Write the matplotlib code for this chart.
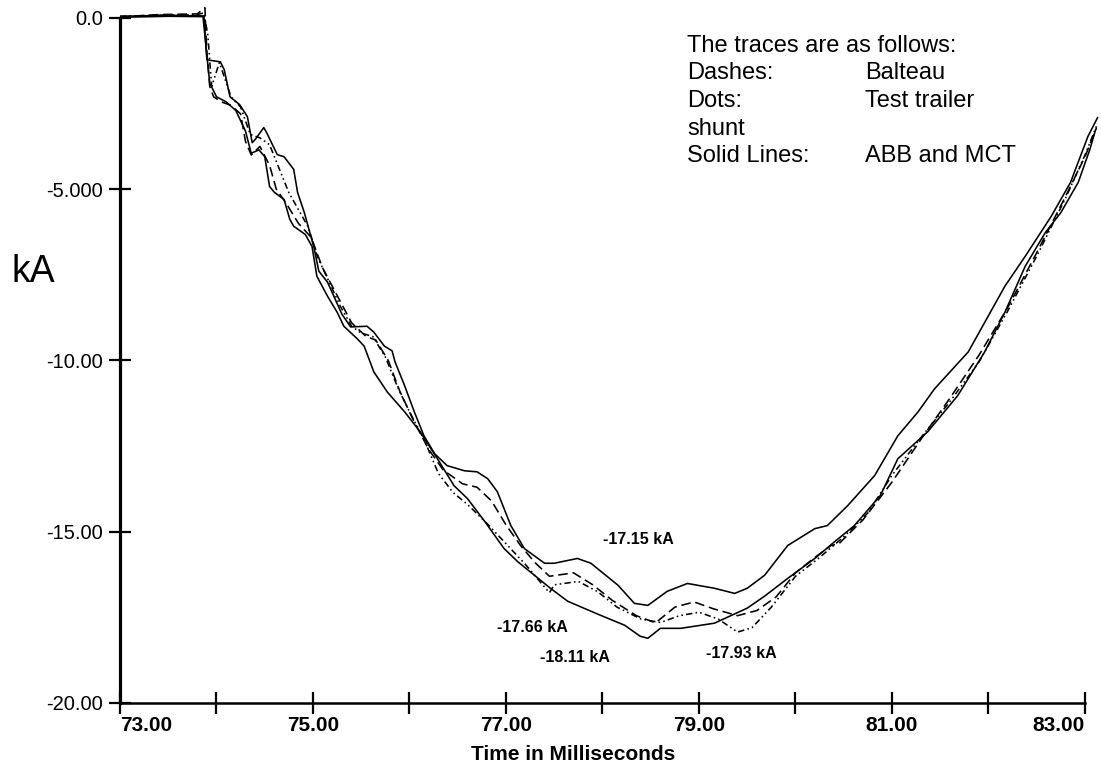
import matplotlib
matplotlib.use("Agg")
import matplotlib.pyplot as plt
import numpy as np

# ---------------- data ----------------
# Solid trace 1 (upper at the minimum, min -17.15 kA)
abb_t = [73.0, 73.5, 73.87, 73.90, 74.04, 74.08, 74.14, 74.24, 74.32, 74.37, 74.40, 74.49,
         74.52, 74.63, 74.70, 74.80, 74.84, 74.91, 75.01, 75.06, 75.15, 75.30, 75.39, 75.56,
         75.63, 75.74, 75.82, 75.85, 75.95, 76.05, 76.15, 76.26, 76.39, 76.57, 76.70, 76.81,
         76.91, 77.05, 77.19, 77.40, 77.50, 77.74, 77.88, 78.16, 78.33, 78.47, 78.67, 78.88,
         79.16, 79.37, 79.50, 79.68, 79.92, 80.20, 80.33, 80.54, 80.82, 81.06, 81.27, 81.44,
         81.79, 82.17, 82.38, 82.65, 82.85, 83.03, 83.13]
abb_kA = [0.05, 0.08, 0.06, -1.22, -1.28, -1.51, -2.30, -2.53, -2.88, -3.64, -3.55, -3.20,
          -3.35, -3.99, -4.05, -4.42, -5.09, -5.68, -6.70, -7.39, -7.71, -8.65, -9.02, -9.00,
          -9.17, -9.58, -9.72, -10.04, -10.74, -11.50, -12.20, -12.72, -13.07, -13.22, -13.25, -13.45,
          -13.83, -14.82, -15.49, -15.92, -15.92, -15.78, -15.92, -16.56, -17.09, -17.15, -16.74, -16.51,
          -16.65, -16.80, -16.65, -16.27, -15.40, -14.91, -14.82, -14.24, -13.36, -12.20, -11.50, -10.83,
          -9.75, -7.83, -6.96, -5.79, -4.80, -3.46, -2.91]

# Solid trace 2 (lowest at the minimum, min -18.11 kA)
mct_t = [73.0, 73.5, 73.86, 73.89, 73.93, 74.0, 74.1, 74.2, 74.3, 74.36, 74.44, 74.50,
         74.55, 74.60, 74.70, 74.76, 74.80, 74.92, 74.99, 75.04, 75.15, 75.25, 75.32, 75.46,
         75.53, 75.63, 75.77, 75.95, 76.11, 76.29, 76.46, 76.60, 76.78, 76.98, 77.12, 77.46,
         77.64, 77.98, 78.23, 78.39, 78.47, 78.60, 78.81, 79.16, 79.50, 79.68, 79.92, 80.20,
         80.41, 80.61, 80.88, 81.06, 81.37, 81.68, 81.96, 82.17, 82.38, 82.59, 82.75, 82.93,
         83.05, 83.11]
mct_kA = [0.02, 0.05, 0.04, -0.8, -1.9, -2.3, -2.45, -2.7, -3.3, -3.95, -3.85, -4.05,
          -4.92, -5.09, -5.30, -5.88, -6.08, -6.32, -6.67, -7.54, -8.12, -8.59, -9.00, -9.37,
          -9.58, -10.33, -10.92, -11.50, -12.08, -12.87, -13.65, -14.03, -14.70, -15.49, -15.87, -16.65,
          -17.03, -17.44, -17.73, -18.05, -18.11, -17.82, -17.82, -17.67, -17.23, -16.88, -16.36, -15.78,
          -15.28, -14.82, -13.94, -12.87, -12.08, -11.03, -9.75, -8.59, -7.25, -6.26, -5.68, -4.80,
          -3.84, -3.26]

# Dashes: Balteau (min -17.66 kA)
balteau_t = [73.0, 73.4, 73.8, 73.88, 73.90, 73.93, 73.97, 74.05, 74.15, 74.25, 74.30, 74.36,
             74.45, 74.55, 74.62, 74.72, 74.85, 74.98, 75.10, 75.25, 75.40, 75.55, 75.65, 75.78,
             75.90, 76.05, 76.20, 76.35, 76.55, 76.70, 76.85, 77.00, 77.15, 77.30, 77.45, 77.70,
             77.90, 78.10, 78.35, 78.55, 78.75, 78.95, 79.15, 79.40, 79.60, 79.80, 80.00, 80.20,
             80.37, 80.45, 80.70, 81.00, 81.30, 81.60, 81.90, 82.20, 82.50, 82.80, 83.00, 83.12]
balteau_kA = [0.03, 0.10, 0.12, 0.30, -1.0, -2.0, -2.3, -2.45, -2.55, -2.8, -3.6, -4.0,
              -3.75, -4.3, -5.0, -5.4, -6.0, -6.4, -7.3, -8.1, -8.9, -9.3, -9.4, -10.0,
              -10.9, -11.8, -12.6, -13.2, -13.6, -13.7, -14.1, -14.8, -15.4, -15.9, -16.3, -16.2,
              -16.55, -17.0, -17.45, -17.66, -17.2, -17.05, -17.25, -17.45, -17.3, -16.9, -16.2, -15.75,
              -15.4, -15.35, -14.65, -13.55, -12.3, -11.1, -9.85, -8.45, -6.85, -5.2, -4.05, -3.2]

# Dots: Test trailer shunt (min -17.93 kA)
shunt_t = [73.0, 73.4, 73.8, 73.87, 73.91, 73.95, 74.03, 74.15, 74.25, 74.35, 74.45, 74.55,
           74.65, 74.75, 74.85, 74.95, 75.05, 75.15, 75.28, 75.40, 75.50, 75.62, 75.75, 75.88,
           76.00, 76.15, 76.30, 76.45, 76.60, 76.80, 77.00, 77.20, 77.35, 77.45, 77.50, 77.75,
           77.95, 78.15, 78.40, 78.60, 78.80, 79.00, 79.20, 79.40, 79.55, 79.75, 80.00, 80.25,
           80.50, 80.75, 81.00, 81.30, 81.60, 81.90, 82.20, 82.50, 82.80, 83.00, 83.12]
shunt_kA = [0.05, 0.08, 0.10, 0.15, -0.5, -2.0, -1.3, -2.3, -2.6, -3.4, -3.5, -3.7,
            -4.4, -5.1, -5.6, -6.1, -7.0, -7.6, -8.4, -9.0, -9.2, -9.3, -9.9, -10.8,
            -11.5, -12.3, -13.3, -13.85, -14.2, -14.75, -15.35, -15.95, -16.45, -16.78, -16.55, -16.45,
            -16.75, -17.2, -17.55, -17.65, -17.45, -17.35, -17.55, -17.93, -17.8, -17.2, -16.3, -15.75,
            -15.15, -14.45, -13.35, -12.25, -11.2, -10.05, -8.55, -6.95, -5.25, -4.0, -3.15]

x_ticks = [73, 74, 75, 76, 77, 78, 79, 80, 81, 82, 83]
x_tick_labels = ["73.00", "", "75.00", "", "77.00", "", "79.00", "", "81.00", "", "83.00"]
y_ticks = [0, -5, -10, -15, -20]
y_tick_labels = ["0.0", "-5.000", "-10.00", "-15.00", "-20.00"]

legend_left = ["The traces are as follows:", "Dashes:", "Dots:", "shunt", "Solid Lines:"]
legend_right = ["", "Balteau", "Test trailer", "", "ABB and MCT"]

peak_labels = ["-17.15 kA", "-17.66 kA", "-18.11 kA", "-17.93 kA"]

# ---------------- figure ----------------
W, H = 1101, 767
plt.rcParams['font.family'] = ['Liberation Sans', 'DejaVu Sans']
fig = plt.figure(figsize=(W / 100, H / 100), dpi=100)

x0_px, y_top_px, y_bot_px = 120, 2, 703
ax = fig.add_axes([x0_px / W, 1 - y_bot_px / H, (1100 - x0_px) / W, (y_bot_px - y_top_px) / H])
ax.set_xlim(73, 73 + (1100 - x0_px) / 96.5)
ax.set_ylim(-20, (18 - y_top_px) / 34.25)

lw = 1.15
ax.plot(abb_t, abb_kA, color='black', lw=lw, ls='-')
ax.plot(mct_t, mct_kA, color='black', lw=lw, ls='-')
ax.plot(balteau_t, balteau_kA, color='black', lw=lw, ls=(0, (6, 3)))
ax.plot(shunt_t, shunt_kA, color='black', lw=lw, ls=(0, (4, 2, 1, 2, 1, 2)))

for s in ['top', 'right']:
    ax.spines[s].set_visible(False)
ax.spines['left'].set_linewidth(2.3)
ax.spines['bottom'].set_linewidth(1.8)
ax.spines['left'].set_bounds(-20, 0)
ax.spines['bottom'].set_bounds(73, 83)

ax.set_xticks(x_ticks)
ax.set_xticklabels(x_tick_labels, fontsize=15, fontweight='bold')
ax.set_yticks(y_ticks)
ax.set_yticklabels(y_tick_labels, fontsize=14.5)
ax.tick_params(axis='x', direction='inout', length=16, width=1.6, pad=1.5)
ax.tick_params(axis='y', direction='inout', length=16, width=1.6, pad=4)
xl = ax.get_xticklabels()
xl[0].set_ha('left')
xl[-1].set_ha('right')

def fx(px):
    return px / W

def fy(py):
    return 1 - py / H

fig.text(fx(573), fy(755), "Time in Milliseconds", fontsize=15, fontweight='bold',
         ha='center', va='center')
fig.text(fx(33), fy(272), "kA", fontsize=27, ha='center', va='center')

baselines = [52, 79, 107, 135, 162]
for left, right, yb in zip(legend_left, legend_right, baselines):
    fig.text(fx(687), fy(yb), left, fontsize=17, ha='left', va='baseline')
    if right:
        fig.text(fx(865), fy(yb), right, fontsize=17, ha='left', va='baseline')

label_pos = [(638, 540), (532, 628), (575, 657), (741, 653)]
for txt, (px, py) in zip(peak_labels, label_pos):
    fig.text(fx(px), fy(py), txt, fontsize=11.5, fontweight='bold', ha='center', va='center')

fig.savefig("out.png", dpi=100)
